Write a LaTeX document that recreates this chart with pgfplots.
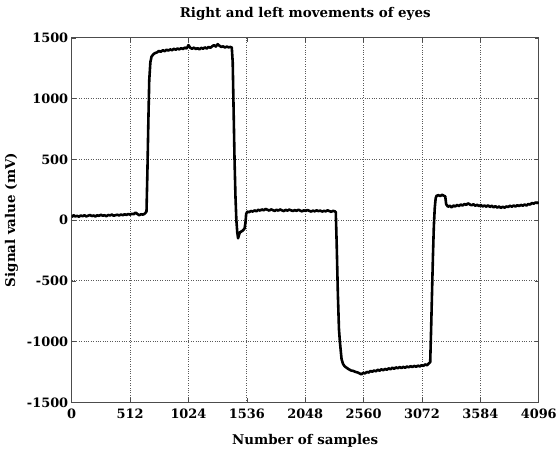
\documentclass[border=0pt]{standalone}
\usepackage{fontspec}
\setmainfont{DejaVu Serif}
\usepackage{pgfplots}
\pgfplotsset{compat=1.18}

\begin{document}
\begin{tikzpicture}[x=1bp,y=1bp]
% fixed page frame, 560 x 443
\path (0,0) rectangle (560,443);
\begin{axis}[
  at={(72bp,39bp)}, anchor=south west,
  scale only axis,
  width=469bp, height=366bp,
  xmin=0, xmax=4096, ymin=-1500, ymax=1500,
  xtick={0,512,...,4096},
  ytick={-1500,-1000,...,1500},
  scaled ticks=false,
  /pgf/number format/assume math mode=true,
  /pgf/number format/1000 sep={},
  ticklabel style={font=\bfseries\fontsize{13}{13}\selectfont},
  xticklabel style={yshift=-3bp},
  tick align=inside,
  major tick length=4bp,
  tick style={gray!60!black, line width=0.6bp},
  axis line style={gray!60!black, line width=0.8bp},
  grid=major,
  major grid style={dotted, gray!70!black, line width=0.7bp},
  title={Right and left movements of eyes},
  title style={font=\bfseries\fontsize{13.5}{14}\selectfont, yshift=8bp},
  xlabel={Number of samples},
  ylabel={Signal value (mV)},
  xlabel style={font=\bfseries\fontsize{13.5}{14}\selectfont, yshift=-9bp},
  ylabel style={font=\bfseries\fontsize{13.5}{14}\selectfont, yshift=2bp},
]
\addplot[black, line width=2.6bp, line join=round] coordinates {
(0,25) (16,40) (32,30) (48,35) (64,28) (80,38) (96,32) (112,40) (128,30) (144,36)
(160,42) (176,33) (192,38) (208,30) (224,40) (240,35) (256,44) (272,36) (288,40) (304,32)
(320,42) (336,38) (352,45) (368,36) (384,40) (400,44) (416,38) (432,46) (448,40) (464,48)
(480,42) (496,50) (512,45) (528,52) (544,48) (560,62) (576,50) (592,40) (608,48) (624,45)
(640,52) (656,70)
(664,400) (672,800) (680,1150) (690,1300) (700,1345) (716,1365) (732,1375) (748,1380)
(764,1392) (780,1385) (800,1398) (816,1390) (832,1402) (848,1395) (864,1405) (880,1398)
(896,1410) (912,1402) (928,1412) (944,1405) (960,1415) (976,1408) (992,1420) (1008,1412)
(1024,1440) (1040,1418) (1056,1410) (1072,1420) (1088,1408) (1104,1415) (1120,1405)
(1136,1418) (1152,1410) (1168,1422) (1184,1412) (1200,1425) (1216,1418) (1232,1430)
(1248,1440) (1264,1428) (1280,1448) (1296,1435) (1312,1425) (1328,1430) (1344,1420)
(1360,1428) (1376,1422) (1392,1425) (1404,1420)
(1412,1300) (1420,900) (1428,500) (1436,200) (1444,0) (1452,-100) (1459,-150)
(1468,-120) (1476,-100) (1486,-95) (1496,-90) (1506,-80) (1516,-70) (1524,-20)
(1530,50) (1540,70) (1556,65) (1572,75) (1588,70) (1604,80) (1620,72) (1636,85)
(1652,78) (1668,88) (1684,80) (1700,92) (1716,85) (1732,78) (1748,88) (1764,82)
(1780,75) (1796,85) (1812,78) (1828,88) (1844,80) (1860,74) (1876,84) (1892,78)
(1908,86) (1924,80) (1940,75) (1956,82) (1972,76) (1988,85) (2004,78) (2020,72)
(2036,80) (2052,75) (2068,83) (2084,76) (2100,70) (2116,78) (2132,72) (2148,80)
(2164,74) (2180,78) (2196,70) (2212,76) (2228,72) (2244,80) (2260,74) (2276,68)
(2292,76) (2308,72) (2316,65)
(2324,-200) (2334,-600) (2344,-900) (2352,-1000) (2360,-1080) (2367,-1146)
(2380,-1185) (2395,-1205) (2410,-1215) (2430,-1228) (2450,-1238) (2470,-1242)
(2490,-1250) (2510,-1255) (2525,-1262) (2541,-1270) (2556,-1258) (2572,-1262)
(2588,-1250) (2604,-1255) (2620,-1242) (2636,-1248) (2652,-1238) (2668,-1245)
(2684,-1232) (2700,-1240) (2716,-1228) (2732,-1236) (2748,-1225) (2764,-1232)
(2780,-1220) (2796,-1228) (2812,-1215) (2828,-1225) (2844,-1212) (2860,-1220)
(2876,-1210) (2892,-1218) (2908,-1208) (2924,-1216) (2940,-1205) (2956,-1212)
(2972,-1202) (2988,-1210) (3004,-1200) (3020,-1208) (3036,-1198) (3052,-1205)
(3068,-1195) (3084,-1200) (3100,-1188) (3116,-1195) (3132,-1180) (3144,-1170)
(3152,-900) (3160,-600) (3168,-300) (3176,-50) (3184,100) (3192,180) (3200,200)
(3216,205) (3232,198) (3248,208) (3264,200) (3276,195) (3284,130) (3300,110)
(3316,118) (3332,105) (3348,120) (3364,112) (3380,125) (3396,115) (3412,128)
(3428,120) (3444,132) (3460,125) (3476,138) (3492,128) (3508,122) (3524,130)
(3540,118) (3556,126) (3572,115) (3588,124) (3604,112) (3620,120) (3636,110)
(3652,122) (3668,108) (3684,118) (3700,105) (3716,115) (3732,102) (3748,112)
(3764,100) (3780,110) (3796,102) (3812,112) (3828,108) (3844,118) (3860,110)
(3876,120) (3892,112) (3908,122) (3924,116) (3940,125) (3956,118) (3972,128)
(3988,120) (4004,132) (4020,128) (4036,140) (4052,135) (4068,145) (4084,140)
(4096,148)
};
\end{axis}
\end{tikzpicture}
\end{document}
